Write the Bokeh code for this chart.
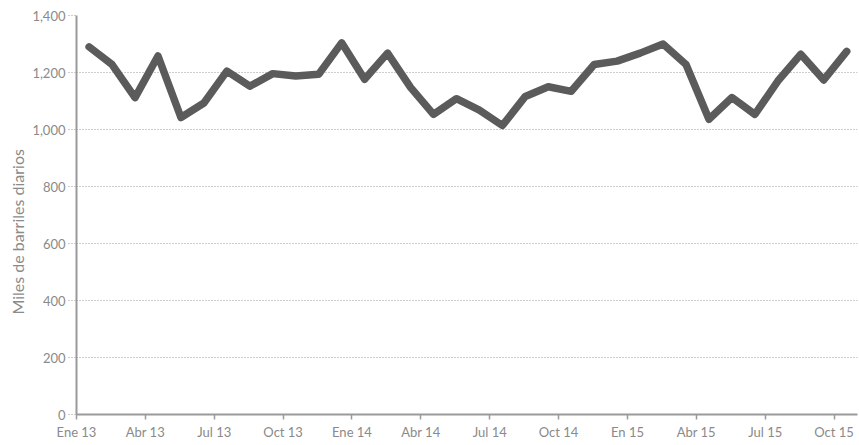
from bokeh.plotting import figure
from bokeh.models import Range1d, FixedTicker, NumeralTickFormatter, Title
from bokeh.embed import file_html
from bokeh.resources import INLINE

# Monthly data, Ene 13 .. Oct 15 (34 months), miles de barriles diarios
months = ["Ene 13", "Feb 13", "Mar 13", "Abr 13", "May 13", "Jun 13", "Jul 13", "Ago 13",
          "Sep 13", "Oct 13", "Nov 13", "Dic 13", "Ene 14", "Feb 14", "Mar 14", "Abr 14",
          "May 14", "Jun 14", "Jul 14", "Ago 14", "Sep 14", "Oct 14", "Nov 14", "Dic 14",
          "En 15", "Feb 15", "Mar 15", "Abr 15", "May 15", "Jun 15", "Jul 15", "Ago 15",
          "Sep 15", "Oct 15"]
values = [1290, 1228, 1112, 1258, 1042, 1093, 1205, 1152, 1196, 1188, 1194, 1304,
          1176, 1268, 1148, 1053, 1108, 1068, 1014, 1116, 1150, 1134, 1228, 1240,
          1268, 1300, 1228, 1036, 1112, 1053, 1170, 1264, 1174, 1274]
tick_idx = [0, 3, 6, 9, 12, 15, 18, 21, 24, 27, 30, 33]
tick_labels = ["Ene 13", "Abr 13", "Jul 13", "Oct 13", "Ene 14", "Abr 14", "Jul 14",
               "Oct 14", "En 15", "Abr 15", "Jul 15", "Oct 15"]
y_ticks = [0, 200, 400, 600, 800, 1000, 1200, 1400]
y_title = "Miles de barriles diarios"

x = [i + 0.55 for i in range(len(values))]

FONT = "Lato"
GREY = "#8a8a8a"

p = figure(width=859, height=445, output_backend="svg", toolbar_location=None,
           x_range=Range1d(0, 34.02), y_range=Range1d(0, 1400),
           min_border_left=76, min_border_right=2, min_border_top=15, min_border_bottom=31)
p.outline_line_color = None
p.background_fill_color = "white"

p.line(x, values, line_color="#5b5b5b", line_width=7.5,
       line_join="round", line_cap="round")

# axes
p.xaxis.ticker = FixedTicker(ticks=tick_idx)
p.xaxis.major_label_overrides = {t: l for t, l in zip(tick_idx, tick_labels)}
p.yaxis.ticker = FixedTicker(ticks=y_ticks)
p.yaxis.formatter = NumeralTickFormatter(format="0,0")

for ax in (p.xaxis, p.yaxis):
    ax.axis_line_color = "#9a9a9a"
    ax.axis_line_width = 2
    ax.major_label_text_color = GREY
    ax.major_label_text_font = FONT
    ax.major_label_text_font_size = "13px"
    ax.minor_tick_line_color = None

p.xaxis.major_tick_line_color = "#9a9a9a"
p.xaxis.major_tick_line_width = 1.5
p.xaxis.major_tick_in = 0
p.xaxis.major_tick_out = 5
p.xaxis.major_label_standoff = 4

p.yaxis.major_tick_line_color = "#9a9a9a"
p.yaxis.major_tick_line_dash = "1 2"
p.yaxis.major_tick_line_width = 1
p.yaxis.major_tick_in = 0
p.yaxis.major_tick_out = 8
p.yaxis.major_label_standoff = 3

# y-axis title as a left-side title, starting ~100px above the frame bottom
p.add_layout(Title(text=y_title, align="left", offset=100, standoff=6,
                   text_color=GREY, text_font=FONT, text_font_size="16px",
                   text_font_style="normal"), "left")

p.xgrid.grid_line_color = None
p.ygrid.grid_line_color = "#9a9a9a"
p.ygrid.grid_line_dash = "1 2"
p.ygrid.grid_line_width = 1

open("out.html", "w").write(file_html(p, INLINE))
